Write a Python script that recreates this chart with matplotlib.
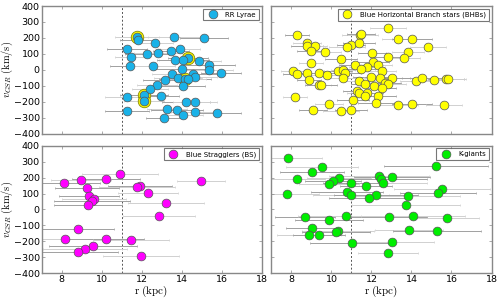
import numpy as np
import matplotlib.pyplot as plt

plt.rcParams['mathtext.fontset'] = 'cm'

# RR Lyrae
rr_r = [11.75, 11.8, 13.63, 15.13, 12.67, 11.25, 11.47, 12.28, 12.83, 13.45, 13.92,
        14.3, 13.65, 14.08, 14.85, 15.37, 15.37, 11.42, 12.58, 14.02, 13.5, 14.58,
        14.67, 15.95, 13.8, 14.18, 14.33, 13.15, 12.75, 14.05, 12.4, 12.1, 11.25,
        12.98, 12.12, 14.22, 14.65, 11.28, 13.25, 13.78, 14.68, 15.75, 14.07, 13.1]
rr_v = [204, 190, 204, 200, 171, 129, 83, 102, 108, 115, 131,
        73, 60, 60, 54, 29, -4, 21, 21, 4, -25, -29,
        -42, -21, -54, -58, -58, -65, -98, -104, -121, -158, -173,
        -167, -198, -202, -200, -256, -246, -254, -262, -271, -281, -304]
rr_err = [1.1, 0.9, 1.3, 1.2, 0.9, 1.0, 0.8, 1.1, 1.2, 0.9, 1.0,
          1.0, 0.8, 1.3, 1.1, 1.3, 1.2, 1.0, 1.1, 1.4, 1.0, 1.2,
          1.1, 1.0, 1.2, 1.3, 0.9, 1.1, 1.0, 1.1, 0.9, 1.2, 1.1,
          0.9, 1.0, 1.2, 1.1, 1.1, 1.0, 1.3, 1.2, 1.2, 1.0, 0.9]
rr_special = [0, 11, 25, 31, 34]

# Blue Horizontal Branch stars
bhb_r = [12.82, 8.28, 11.42, 11.5, 13.32, 14.02, 8.78, 8.78, 9.2, 11.0, 10.78,
         11.4, 14.83, 8.98, 9.68, 12.02, 13.82, 12.82, 13.62, 10.48, 8.98, 12.1,
         12.32, 11.18, 11.8, 11.5, 8.07, 8.28, 8.78, 9.38, 9.78, 10.35, 10.6,
         10.68, 12.52, 12.0, 12.42, 13.02, 10.6, 8.87, 11.4, 11.7, 9.38, 9.48,
         12.12, 12.68, 12.82, 12.52, 14.22, 14.52, 15.13, 15.73, 15.85, 11.28,
         11.4, 11.8, 11.7, 12.32, 8.18, 11.08, 9.88, 12.22, 13.32, 14.02, 15.63,
         9.08, 10.5, 11.0]
bhb_v = [262, 217, 217, 223, 194, 194, 165, 152, 152, 154, 140,
         165, 144, 119, 113, 108, 110, 81, 77, 69, 42, 46,
         33, 29, 19, 6, -10, -25, -17, -17, -31, -10, -2,
         -21, -10, -44, -54, -52, -50, -65, -71, -90, -94, -92,
         -104, -85, -90, -115, -71, -54, -65, -58, -58, -131,
         -148, -144, -162, -165, -173, -192, -215, -210, -223, -212, -221,
         -250, -260, -252]
bhb_err = [0.9, 0.6, 0.9, 0.7, 0.8, 1.0, 0.7, 0.8, 0.6, 0.7, 0.9,
           0.8, 0.9, 0.7, 0.8, 0.7, 0.8, 0.9, 0.8, 0.8, 0.6, 0.8,
           0.7, 0.8, 0.9, 0.7, 0.6, 0.7, 0.8, 0.9, 0.8, 0.7, 0.6,
           0.8, 0.7, 0.9, 0.8, 0.9, 0.7, 0.6, 0.8, 0.7, 0.6, 0.8,
           0.7, 0.8, 0.9, 0.7, 0.8, 1.0, 0.9, 0.9, 0.9, 0.7,
           0.6, 0.8, 0.7, 0.9, 0.6, 0.8, 0.7, 0.9, 1.0, 1.0, 0.9,
           0.7, 0.9, 0.8]

# Blue Stragglers
bs_r = [10.9, 10.2, 8.97, 8.13, 14.98, 11.9, 11.78, 9.27, 12.33, 9.35, 9.63,
        9.5, 13.2, 9.33, 12.87, 8.8, 8.18, 10.23, 11.48, 9.55, 9.15, 8.8, 11.95]
bs_v = [224, 193, 182, 163, 176, 149, 138, 132, 103, 86, 65,
        52, 42, 29, -42, -124, -182, -182, -193, -230, -249, -268, -293]
bs_err = [1.9, 1.7, 1.5, 1.8, 1.2, 1.6, 1.9, 1.6, 1.5, 1.5, 1.6,
          1.9, 1.9, 1.7, 1.8, 1.8, 2.2, 1.9, 1.9, 2.2, 2.1, 2.0, 1.9]

# K-giants
kg_r = [7.83, 15.22, 9.55, 9.03, 12.37, 13.02, 10.38, 12.48, 8.3, 10.07, 12.57,
        11.0, 9.88, 11.72, 15.52, 10.78, 7.8, 15.32, 11.0, 12.25, 13.85, 11.9,
        13.73, 8.68, 10.75, 12.88, 14.1, 9.9, 15.77, 9.03, 13.88, 15.27, 10.32,
        10.25, 8.88, 9.38, 13.05, 11.05, 12.85]
kg_v = [323, 272, 264, 232, 207, 205, 197, 191, 191, 178, 168,
        165, 157, 149, 128, 111, 94, 103, 88, 88, 82, 69,
        27, -48, -44, -50, -44, -65, -54, -115, -126, -136, -136,
        -144, -159, -159, -201, -209, -272]
kg_err = [1.7, 2.6, 1.8, 1.6, 2.5, 1.9, 1.6, 2.3, 1.4, 1.4, 2.2,
          1.4, 1.5, 1.3, 2.4, 1.8, 1.6, 1.9, 1.9, 2.1, 2.6, 2.0,
          2.7, 1.5, 2.4, 1.9, 2.6, 1.7, 1.6, 1.3, 1.7, 2.2, 1.8,
          1.7, 1.6, 1.3, 2.1, 2.1, 1.5]

panels = [
    (rr_r, rr_v, rr_err, '#1ab2e8', 'RR Lyrae'),
    (bhb_r, bhb_v, bhb_err, '#ffff00', 'Blue Horizontal Branch stars (BHBs)'),
    (bs_r, bs_v, bs_err, '#ff00ff', 'Blue Stragglers (BS)'),
    (kg_r, kg_v, kg_err, '#00ee00', 'K-giants'),
]

fig, axes = plt.subplots(2, 2, figsize=(5, 3), dpi=100, sharex=True, sharey=True)
fig.subplots_adjust(left=0.083, right=0.983, top=0.98, bottom=0.089,
                    wspace=0.045, hspace=0.094)

for k, (ax, (r, v, err, col, lab)) in enumerate(zip(axes.flat, panels)):
    r = np.array(r)
    v = np.array(v)
    err = np.array(err)
    shade = ['#a0a0a0' if i % 2 else '#d0d0d0' for i in range(len(r))]
    for i in range(len(r)):
        ax.errorbar(r[i], v[i], xerr=err[i], fmt='none', ecolor=shade[i],
                    elinewidth=0.7, capsize=1, capthick=0.5, zorder=1)
    if k == 0:
        ax.plot(r[rr_special], v[rr_special], 'o', ms=9, mfc='#ffff00',
                mec='#888800', mew=0.6, zorder=2)
    ax.axvline(11, color='#555555', lw=0.7, ls=(0, (2, 2)), zorder=0)
    ax.plot(r, v, 'o', ms=6.3, mfc=col, mec='#555555', mew=0.5, zorder=3,
            label=lab)
    leg = ax.legend(loc='upper right', fontsize=5, numpoints=1,
                    fancybox=False, borderpad=0.4, handletextpad=0.8,
                    borderaxespad=0.4)
    leg.get_frame().set_edgecolor('#555555')
    leg.get_frame().set_linewidth(0.8)
    ax.set_xlim(7, 18)
    ax.set_ylim(-400, 400)
    ax.set_xticks(np.arange(8, 19, 2))
    ax.set_yticks(np.arange(-400, 401, 100))
    ax.tick_params(direction='in', top=True, right=True, labelsize=6.8,
                   length=2.5, width=0.5, color='#888888', pad=1.2)
    for s in ax.spines.values():
        s.set_edgecolor('#888888')
        s.set_linewidth(1.0)

for ax in axes[:, 0]:
    ax.set_ylabel(r'$v_{GSR}\ \mathrm{(km/s)}$', fontsize=7.5)
    ax.yaxis.set_label_coords(-0.122, 0.5)
for ax in axes[1, :]:
    ax.set_xlabel(r'$\mathrm{r\ (kpc)}$', fontsize=8, labelpad=0)
for ax in axes[0, :]:
    ax.tick_params(labelbottom=False)
for ax in axes[:, 1]:
    ax.tick_params(labelleft=False)

fig.savefig('out.png', dpi=100)
